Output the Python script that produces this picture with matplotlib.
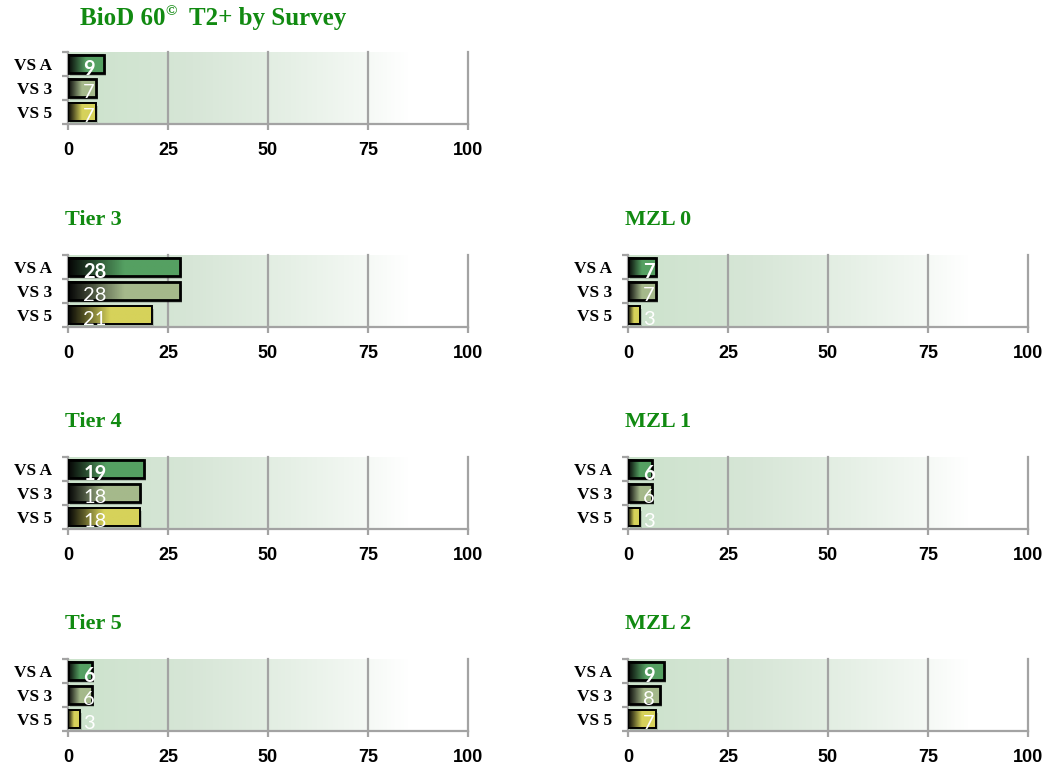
import numpy as np
import matplotlib.pyplot as plt
from matplotlib.colors import LinearSegmentedColormap
from matplotlib.patches import Rectangle

# survey series, top to bottom
surveys = ["VS A", "VS 3", "VS 5"]
bar_colors = ["#55a062", "#a5b98b", "#d6d25a"]
panel_titles = ["Tier 3", "Tier 4", "Tier 5", "MZL 0", "MZL 1", "MZL 2"]

overall = [9, 7, 7]
tier3 = [28, 28, 21]
tier4 = [19, 18, 18]
tier5 = [6, 6, 3]
mzl0 = [7, 7, 3]
mzl1 = [6, 6, 3]
mzl2 = [9, 8, 7]

xticks = [0, 25, 50, 75, 100]

GREY = "#a3a3a3"
TITLE_GREEN = "#118a11"
W, H = 1047, 765

fig = plt.figure(figsize=(W / 100, H / 100), dpi=100)


def ax_rect(left_px, top_px, width_px=400, height_px=72):
    return [left_px / W, (H - top_px - height_px) / H, width_px / W, height_px / H]


# background fade: pale green at 0, white past ~84
bg_x = np.linspace(0, 100, 400)
bg_stops = [(0, (0.80, 0.89, 0.80)), (30, (0.84, 0.90, 0.84)),
            (55, (0.90, 0.94, 0.90)), (72, (0.95, 0.97, 0.95)),
            (85, (1.0, 1.0, 1.0)), (100, (1.0, 1.0, 1.0))]
bg = np.zeros((1, len(bg_x), 3))
for c in range(3):
    bg[0, :, c] = np.interp(bg_x, [s[0] for s in bg_stops], [s[1][c] for s in bg_stops])


def draw_panel(ax, values):
    ax.imshow(bg, extent=(0, 100, -0.5, 2.5), aspect="auto", zorder=0)
    for x in xticks[1:]:
        ax.axvline(x, color=GREY, lw=1.6, zorder=1, clip_on=False)
    h = 0.78
    for i, (v, col) in enumerate(zip(values, bar_colors)):
        cmap = LinearSegmentedColormap.from_list(
            "bar%d" % i, [(0, "#050505"), (0.5, col), (1, col)])
        grad = np.linspace(0, 1, 64).reshape(1, -1)
        # soft drop shadow
        ax.add_patch(Rectangle((0.4, i - h / 2 + 0.12), v + 0.2, h, color="#000000",
                               alpha=0.18, lw=0, zorder=2))
        ax.imshow(grad, cmap=cmap, extent=(0, v, i + h / 2, i - h / 2),
                  aspect="auto", zorder=3)
        ax.add_patch(Rectangle((0, i - h / 2), v, h, fill=False, ec="black",
                               lw=2.0 if i < 2 else 1.4, zorder=4))
        ax.text(3.8, i + 0.2, str(v), color="white", ha="left", va="center",
                fontsize=14.5, family="Lato",
                fontweight="bold" if i == 0 else "normal", zorder=5)
    ax.set_xlim(0, 100)
    ax.set_ylim(2.5, -0.5)
    ax.set_xticks(xticks)
    ax.set_xticklabels([str(x) for x in xticks], fontsize=13, fontweight="bold",
                       family="Liberation Sans")
    ax.set_yticks([0, 1, 2])
    ax.set_yticklabels(surveys, fontsize=12.5, fontweight="bold", family="Liberation Serif")
    ax.set_yticks([-0.5, 0.5, 1.5, 2.5], minor=True)
    ax.tick_params(axis="y", which="major", length=0, pad=11.5)
    ax.tick_params(axis="y", which="minor", length=4.5, width=1.6, color=GREY)
    ax.tick_params(axis="x", length=4, width=1.6, color=GREY, pad=9)
    for s in ["top", "right"]:
        ax.spines[s].set_visible(False)
    for s in ["left", "bottom"]:
        ax.spines[s].set_color(GREY)
        ax.spines[s].set_linewidth(1.6)


# overall panel
ax0 = fig.add_axes(ax_rect(68, 52))
draw_panel(ax0, overall)

panel_data = [tier3, tier4, tier5, mzl0, mzl1, mzl2]
tops = [255, 457, 659]
for k, (title, vals) in enumerate(zip(panel_titles, panel_data)):
    col, row = divmod(k, 3)
    left = 68 if col == 0 else 628
    ax = fig.add_axes(ax_rect(left, tops[row]))
    draw_panel(ax, vals)
    fig.text((left - 3) / W, 1 - (tops[row] - 30) / H, title, color=TITLE_GREEN,
             fontsize=16, fontweight="bold", family="Liberation Serif", va="baseline")

# main title with superscript copyright sign
renderer = fig.canvas.get_renderer()
t1 = fig.text(80 / W, 1 - 25 / H, "BioD 60", color=TITLE_GREEN, fontsize=18,
              fontweight="bold", family="Liberation Serif", va="baseline")
bb = t1.get_window_extent(renderer)
t2 = fig.text(bb.x1 / W, 1 - 15 / H, "\u00a9", color=TITLE_GREEN, fontsize=11,
              fontweight="bold", family="Liberation Serif", va="baseline")
bb2 = t2.get_window_extent(renderer)
fig.text(bb2.x1 / W, 1 - 25 / H, "  T2+ by Survey", color=TITLE_GREEN, fontsize=18,
         fontweight="bold", family="Liberation Serif", va="baseline")

fig.savefig("out.png", dpi=100)
